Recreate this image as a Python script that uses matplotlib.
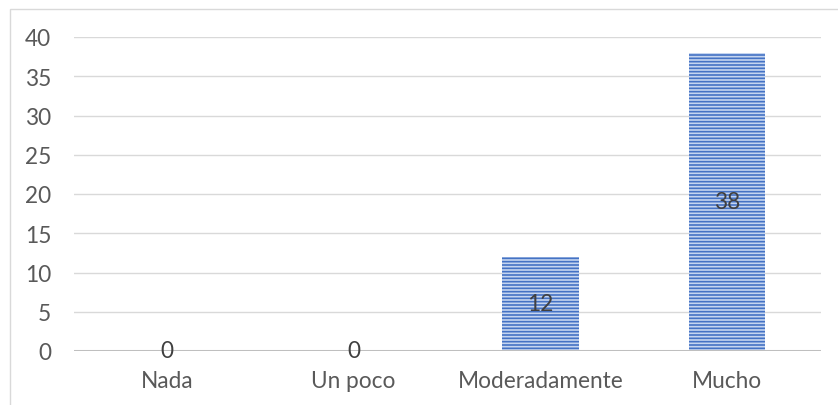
import matplotlib.pyplot as plt
import matplotlib as mpl
from matplotlib.patches import Rectangle

categories = ["Nada", "Un poco", "Moderadamente", "Mucho"]
values = [0, 0, 12, 38]
yticks = [0, 5, 10, 15, 20, 25, 30, 35, 40]

mpl.rcParams['hatch.linewidth'] = 1.2
mpl.rcParams['font.family'] = ['Lato', 'DejaVu Sans']
FS = 16.3

fig = plt.figure(figsize=(8.38, 4.06), dpi=100)
ax = fig.add_axes([73.5/838, 54/406, 747/838, 314/406])

x = list(range(len(categories)))
bars = ax.bar(x, values, width=0.41, color='#c5d5f0', edgecolor='#4472c4',
              hatch='-----', linewidth=0, zorder=3)

for xi, v in zip(x, values):
    ax.text(xi, v/2, str(v), ha='center', va='center', fontsize=FS,
            color='#404040', zorder=6)

ax.set_xlim(-0.5, 3.5)
ax.set_ylim(0, 40)
ax.set_yticks(yticks)
ax.set_xticks(x)
ax.set_xticklabels(categories)
ax.grid(axis='y', color='#d9d9d9', linewidth=1, zorder=0)
ax.axhline(0, color='#bfbfbf', linewidth=2.2, zorder=5)
for s in ax.spines.values():
    s.set_visible(False)
ax.tick_params(axis='both', length=0, labelsize=FS, colors='#595959')
ax.tick_params(axis='y', pad=16)
ax.tick_params(axis='x', pad=14)

fig.patches.append(Rectangle((9.5/838, -0.1), 1.0, (406-10)/406 + 0.1,
                             transform=fig.transFigure, fill=False,
                             edgecolor='#d9d9d9', linewidth=1))

fig.savefig('out.png', dpi=100)
